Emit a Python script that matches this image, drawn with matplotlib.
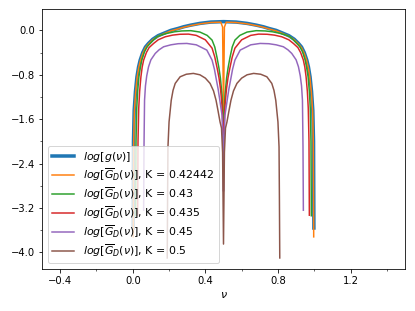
import matplotlib
matplotlib.use("Agg")
import matplotlib.pyplot as plt
from matplotlib.ticker import MultipleLocator

# log[g(nu)]
nu_g = [0.002, 0.004, 0.008, 0.015, 0.023, 0.032, 0.041, 0.055, 0.070, 0.087,
        0.110, 0.140, 0.170, 0.210, 0.250, 0.280, 0.320, 0.370, 0.430, 0.500,
        0.570, 0.630, 0.680, 0.720, 0.750, 0.790, 0.830, 0.860, 0.890, 0.913,
        0.930, 0.945, 0.959, 0.968, 0.977, 0.985, 0.992, 0.996, 0.998]
log_g = [-3.56, -2.00, -1.44, -1.10, -0.84, -0.66, -0.535, -0.40, -0.30, -0.234,
         -0.16, -0.095, -0.054, 0.00, 0.035, 0.065, 0.095, 0.126, 0.150, 0.158,
         0.150, 0.126, 0.095, 0.065, 0.035, 0.00, -0.054, -0.095, -0.16, -0.234,
         -0.30, -0.40, -0.535, -0.66, -0.84, -1.10, -1.44, -2.00, -3.56]

# K = 0.42442
nu_k1 = [0.003, 0.005, 0.009, 0.016, 0.024, 0.033, 0.042, 0.056, 0.071, 0.088,
         0.111, 0.141, 0.171, 0.211, 0.251, 0.281, 0.321, 0.371, 0.430, 0.485,
         0.495, 0.500, 0.505, 0.515, 0.570, 0.629, 0.679, 0.719, 0.749, 0.789,
         0.829, 0.859, 0.889, 0.912, 0.929, 0.944, 0.958, 0.967, 0.976, 0.984,
         0.991, 0.995, 0.997]
log_k1 = [-3.72, -2.05, -1.46, -1.11, -0.85, -0.67, -0.545, -0.41, -0.31, -0.242,
          -0.168, -0.103, -0.062, -0.008, 0.027, 0.057, 0.087, 0.118, 0.142, 0.148,
          0.06, -1.50, 0.06, 0.148, 0.142, 0.118, 0.087, 0.057, 0.027, -0.008,
          -0.062, -0.103, -0.168, -0.242, -0.31, -0.41, -0.545, -0.67, -0.85, -1.11,
          -1.46, -2.05, -3.72]

# K = 0.43
nu_k2 = [0.016, 0.018, 0.022, 0.027, 0.034, 0.042, 0.050, 0.065, 0.080, 0.096,
         0.115, 0.133, 0.160, 0.188, 0.230, 0.270, 0.320, 0.370, 0.410, 0.437,
         0.452, 0.465, 0.475, 0.483, 0.492, 0.497, 0.500,
         0.503, 0.508, 0.517, 0.525, 0.535, 0.548, 0.563, 0.590, 0.630, 0.680,
         0.730, 0.770, 0.812, 0.840, 0.867, 0.885, 0.904, 0.920, 0.935, 0.950,
         0.958, 0.966, 0.973, 0.978, 0.982, 0.984]
log_k2 = [-3.34, -2.00, -1.40, -1.10, -0.836, -0.67, -0.535, -0.38, -0.29, -0.235,
          -0.17, -0.115, -0.08, -0.054, -0.025, -0.01, -0.005, -0.03, -0.09, -0.175,
          -0.30, -0.50, -0.68, -0.86, -1.17, -1.60, -2.20,
          -1.60, -1.17, -0.86, -0.68, -0.50, -0.30, -0.175, -0.09, -0.03, -0.005,
          -0.01, -0.025, -0.054, -0.08, -0.115, -0.17, -0.235, -0.29, -0.38, -0.535,
          -0.67, -0.836, -1.10, -1.40, -2.00, -3.34]

# K = 0.435
nu_k3 = [0.027, 0.029, 0.033, 0.038, 0.045, 0.052, 0.060, 0.075, 0.090, 0.115,
         0.140, 0.179, 0.220, 0.260, 0.307, 0.350, 0.400, 0.437, 0.452, 0.465,
         0.475, 0.483, 0.492, 0.497, 0.500,
         0.503, 0.508, 0.517, 0.525, 0.535, 0.548, 0.563, 0.600, 0.650, 0.693,
         0.740, 0.780, 0.821, 0.860, 0.885, 0.910, 0.925, 0.940, 0.948, 0.955,
         0.962, 0.967, 0.971, 0.973]
log_k3 = [-3.33, -2.00, -1.40, -1.10, -0.836, -0.66, -0.535, -0.40, -0.31, -0.235,
          -0.17, -0.115, -0.085, -0.07, -0.067, -0.09, -0.17, -0.32, -0.48, -0.68,
          -0.85, -1.04, -1.35, -1.80, -2.50,
          -1.80, -1.35, -1.04, -0.85, -0.68, -0.48, -0.32, -0.17, -0.09, -0.067,
          -0.07, -0.085, -0.115, -0.17, -0.235, -0.31, -0.40, -0.535, -0.66, -0.836,
          -1.10, -1.40, -2.00, -3.33]

# K = 0.45
nu_k4 = [0.060, 0.062, 0.065, 0.070, 0.077, 0.087, 0.100, 0.124, 0.145, 0.170,
         0.210, 0.250, 0.298, 0.350, 0.408, 0.437, 0.450, 0.459, 0.470, 0.478,
         0.486, 0.492, 0.497, 0.500,
         0.503, 0.508, 0.514, 0.522, 0.530, 0.541, 0.550, 0.563, 0.592, 0.650,
         0.702, 0.750, 0.790, 0.830, 0.855, 0.876, 0.900, 0.913, 0.923, 0.930,
         0.935, 0.938, 0.940]
log_k4 = [-3.24, -2.10, -1.26, -1.00, -0.82, -0.656, -0.53, -0.415, -0.35, -0.295,
          -0.26, -0.24, -0.235, -0.26, -0.355, -0.535, -0.70, -0.86, -1.05, -1.22,
          -1.40, -1.53, -2.00, -2.90,
          -2.00, -1.53, -1.40, -1.22, -1.05, -0.86, -0.70, -0.535, -0.355, -0.26,
          -0.235, -0.24, -0.26, -0.295, -0.35, -0.415, -0.53, -0.656, -0.82, -1.00,
          -1.26, -2.10, -3.24]

# K = 0.5
nu_k5 = [0.190, 0.192, 0.194, 0.200, 0.212, 0.222, 0.234, 0.261, 0.295, 0.334,
         0.370, 0.400, 0.426, 0.445, 0.459, 0.470, 0.481, 0.489, 0.495, 0.500,
         0.505, 0.511, 0.519, 0.530, 0.541, 0.555, 0.574, 0.600, 0.630, 0.666,
         0.705, 0.739, 0.766, 0.778, 0.788, 0.800, 0.806, 0.808, 0.810]
log_k5 = [-4.10, -3.00, -2.10, -1.65, -1.26, -1.08, -0.955, -0.836, -0.79, -0.775,
          -0.80, -0.86, -0.955, -1.09, -1.26, -1.45, -1.65, -1.76, -2.20, -3.85,
          -2.20, -1.76, -1.65, -1.45, -1.26, -1.09, -0.955, -0.86, -0.80, -0.775,
          -0.79, -0.836, -0.955, -1.08, -1.26, -1.65, -2.10, -3.00, -4.10]

k_labels = ["0.42442", "0.43", "0.435", "0.45", "0.5"]
k_nu = [nu_k1, nu_k2, nu_k3, nu_k4, nu_k5]
k_log = [log_k1, log_k2, log_k3, log_k4, log_k5]

fig = plt.figure(figsize=(415 / 72, 311 / 72), dpi=72)
ax = fig.add_subplot(111)
fig.subplots_adjust(left=42 / 415, right=405 / 415, top=1 - 9.3 / 311, bottom=1 - 268.5 / 311)

ax.plot(nu_g, log_g, color="C0", lw=3.5, label=r"$log[g(\nu)]$")
for i in range(len(k_labels)):
    ax.plot(k_nu[i], k_log[i], color="C%d" % (i + 1), lw=1.5,
            label=r"$log[\overline{G}_D(\nu)]$, K = " + k_labels[i])

ax.set_xlim(-0.5, 1.5)
ax.set_ylim(-4.29, 0.38)
ax.xaxis.set_major_locator(MultipleLocator(0.4))
ax.xaxis.set_minor_locator(MultipleLocator(0.2))
ax.yaxis.set_major_locator(MultipleLocator(0.8))
ax.yaxis.set_minor_locator(MultipleLocator(0.4))
ax.set_xlabel(r"$\nu$", fontsize=11)
ax.legend(loc="lower left", fontsize=11, labelspacing=0.2, handlelength=2.0)

fig.savefig("out.png", dpi=72)
